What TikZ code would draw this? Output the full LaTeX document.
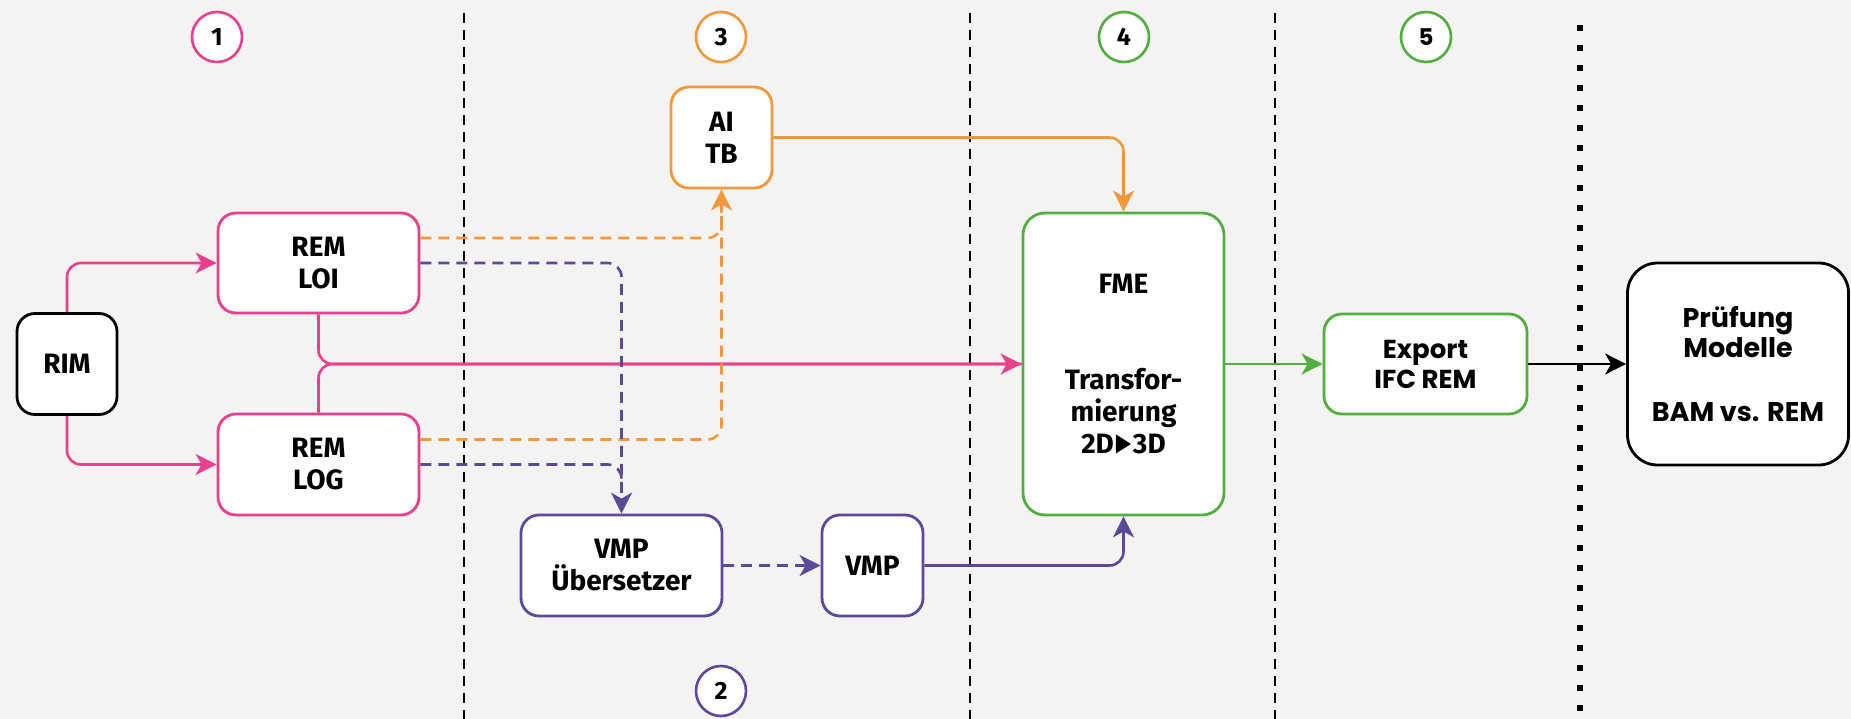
\documentclass[tikz,border=0pt]{standalone}
\usepackage{fontspec}
\setmainfont{Fira Sans}
\newfontfamily\widefont{Poppins}
\usetikzlibrary{arrows.meta}
\definecolor{bgc}{RGB}{245,243,241}
\definecolor{pinkc}{RGB}{232,64,140}
\definecolor{orangec}{RGB}{242,152,58}
\definecolor{purplec}{RGB}{92,72,156}
\definecolor{greenc}{RGB}{82,174,63}
\newcommand{\tri}{\hspace{2pt}\tikz[x=1pt,y=1pt,baseline=0pt,sharp corners]\fill[black] (0,0)--(15,9.5)--(0,19)--cycle;\hspace{2pt}}
\begin{document}
\begin{tikzpicture}[x=1pt,y=-1pt,
  box/.style={draw, fill=white, line width=2.8pt, rounded corners=18pt, inner sep=0pt, align=center,
    font=\fontsize{28}{32}\selectfont\bfseries},
  wbox/.style={box, font=\widefont\fontsize{26}{30}\selectfont\bfseries},
  num/.style={draw, fill=white, circle, line width=2.6pt, minimum size=50pt, inner sep=0pt,
    font=\fontsize{25}{25}\selectfont\bfseries},
  conn/.style={line width=2.6pt, rounded corners=14pt, -{Stealth[length=21pt,width=21pt,inset=6pt]}},
  plainline/.style={line width=2.6pt, rounded corners=14pt},
  dsh/.style={dash pattern=on 11pt off 7pt},
  divider/.style={line width=2.7pt, dash pattern=on 10pt off 7pt},
  dotdiv/.style={line width=6pt, dash pattern=on 6pt off 14pt}
]
\useasboundingbox (0,0) rectangle (1851,719);
\fill[bgc] (0,0) rectangle (1851,719);

% dividers
\draw[divider] (464,13) -- (464,719);
\draw[divider] (970,13) -- (970,719);
\draw[divider] (1275,13) -- (1275,719);
\draw[dotdiv] (1580,25) -- (1580,719);

% numbers
\node[num, draw=pinkc] (c1) at (217,37) {1};
\node[num, draw=orangec] (c3) at (721,37) {3};
\node[num, draw=greenc] (c4) at (1124,37) {4};
\node[num, draw=greenc, font=\widefont\fontsize{23}{23}\selectfont\bfseries] (c5) at (1426,37) {5};
\node[num, draw=purplec] (c2) at (721,691) {2};

% boxes
\node[box, draw=black, minimum width=100pt, minimum height=101pt] (rim) at (67,364) {RIM};
\node[box, draw=pinkc, minimum width=201pt, minimum height=100pt] (loi) at (318.5,263) {REM\\LOI};
\node[box, draw=pinkc, minimum width=201pt, minimum height=101pt] (log) at (318.5,464.5) {REM\\LOG};
\node[box, draw=orangec, minimum width=101pt, minimum height=101pt] (aitb) at (721.5,137.5) {AI\\TB};
\node[box, draw=purplec, minimum width=201pt, minimum height=101pt] (vmpu) at (621.5,565.5) {VMP\\Übersetzer};
\node[box, draw=purplec, minimum width=101pt, minimum height=101pt] (vmp) at (872.5,565.5) {VMP};
\node[box, draw=greenc, minimum width=201pt, minimum height=302pt, rounded corners=22pt] (fme) at (1123.5,364)
  {FME\\[64pt]Transfor-\\mierung\\2D\tri3D};
\node[wbox, draw=greenc, minimum width=203pt, minimum height=100pt] (exp) at (1425.5,364) {Export\\IFC REM};
\node[wbox, draw=black, minimum width=221pt, minimum height=202pt, rounded corners=30pt,
  font=\widefont\fontsize{27}{30}\selectfont\bfseries] (pruef) at (1738,364)
  {Prüfung\\Modelle\\[34pt]BAM vs. REM};

% junction coordinates
\coordinate (oj) at (721.5,214);
\coordinate (pj) at (621.5,484);

% pink
\draw[conn, pinkc] (rim.north) |- (loi.west);
\draw[conn, pinkc] (rim.south) |- (log.west);
\draw[plainline, pinkc] (loi.south) |- (fme.west);
\draw[conn, pinkc] (log.north) |- (fme.west);

% orange
\draw[plainline, dsh, orangec] ([yshift=25pt]loi.east) -| (oj);
\draw[conn, dsh, orangec] ([yshift=25pt]log.east) -| (aitb.south);
\draw[conn, orangec] (aitb.east) -| (fme.north);

% purple
\draw[conn, dsh, purplec] (loi.east) -| (vmpu.north);
\draw[plainline, dsh, purplec] (log.east) -| (pj);
\draw[conn, dsh, purplec] (vmpu.east) -- (vmp.west);
\draw[conn, purplec] (vmp.east) -| (fme.south);

% green and black
\draw[conn, greenc] (fme.east) -- (exp.west);
\draw[conn, black] (exp.east) -- (pruef.west);
\end{tikzpicture}
\end{document}
